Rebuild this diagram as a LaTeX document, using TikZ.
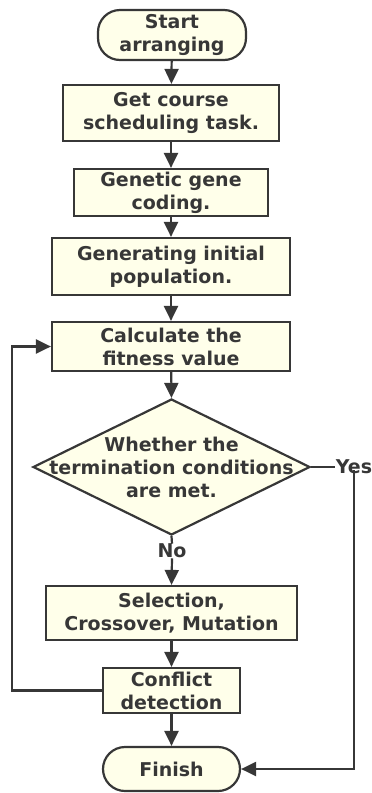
\documentclass[tikz,border=0pt]{standalone}
\usepackage{fontspec}
\setmainfont{DejaVu Sans}
\usetikzlibrary{arrows.meta,shapes.geometric,calc}
\definecolor{boxfill}{RGB}{255,255,234}
\definecolor{ink}{RGB}{55,55,55}
\begin{document}
\begin{tikzpicture}[x=1pt,y=-1pt,
  every node/.style={font=\fontsize{19}{23}\selectfont\bfseries, text=ink, align=center, inner sep=0pt},
  proc/.style={draw=ink, line width=2.2pt, fill=boxfill},
  term/.style={proc, rounded corners=22pt},
  decision/.style={draw=ink, line width=2.2pt, fill=boxfill, diamond, inner sep=0pt},
  flow/.style={draw=ink, line width=2.2pt, -{Triangle[length=15pt,width=14pt]}},
  link/.style={draw=ink, line width=2.2pt}]
\useasboundingbox (0,0) rectangle (372,793);

\node[term, minimum width=148pt, minimum height=50pt] (start) at (172,35) {Start\\arranging};
\node[proc, minimum width=216pt, minimum height=56pt] (task) at (171,113) {Get course\\scheduling task.};
\node[proc, minimum width=194pt, minimum height=47pt] (code) at (171,192.5) {Genetic gene\\coding.};
\node[proc, minimum width=238pt, minimum height=57pt] (pop) at (171,266.5) {Generating initial\\population.};
\node[proc, minimum width=238pt, minimum height=49pt] (fit) at (171,346.5) {Calculate the\\fitness value};
\node[decision, minimum width=277pt, minimum height=136pt] (dec) at (171.5,467) {};
\node (dectext) at (dec.center) {Whether the\\termination conditions\\are met.};
\node (yes) at (354,467) {Yes};
\node (no) at (172,551) {No};
\node[proc, minimum width=251pt, minimum height=54pt] (sel) at (171.5,613) {Selection,\\Crossover, Mutation};
\node[proc, minimum width=137pt, minimum height=45pt] (conf) at (171.5,690.5) {Conflict\\detection};
\node[term, minimum width=137pt, minimum height=44pt] (fin) at (171.5,769) {Finish};

\coordinate (loopL) at (12,690.5);

\draw[flow] (start) -- (task);
\draw[flow] (task) -- (code);
\draw[flow] (code) -- (pop);
\draw[flow] (pop) -- (fit);
\draw[flow] (fit) -- (dec.north);
\draw[link] (dec.south) -- (no.north);
\draw[flow] (no.south) -- (sel.north);
\draw[flow] (sel) -- (conf);
\draw[flow] (conf) -- (fin);
\draw[link] (dec.east) -- ([xshift=-1pt]yes.west);
\draw[flow] ([yshift=4pt]yes.south) |- (fin.east);
\draw[flow] (conf.west) -- (loopL) |- (fit.west);
\end{tikzpicture}
\end{document}
